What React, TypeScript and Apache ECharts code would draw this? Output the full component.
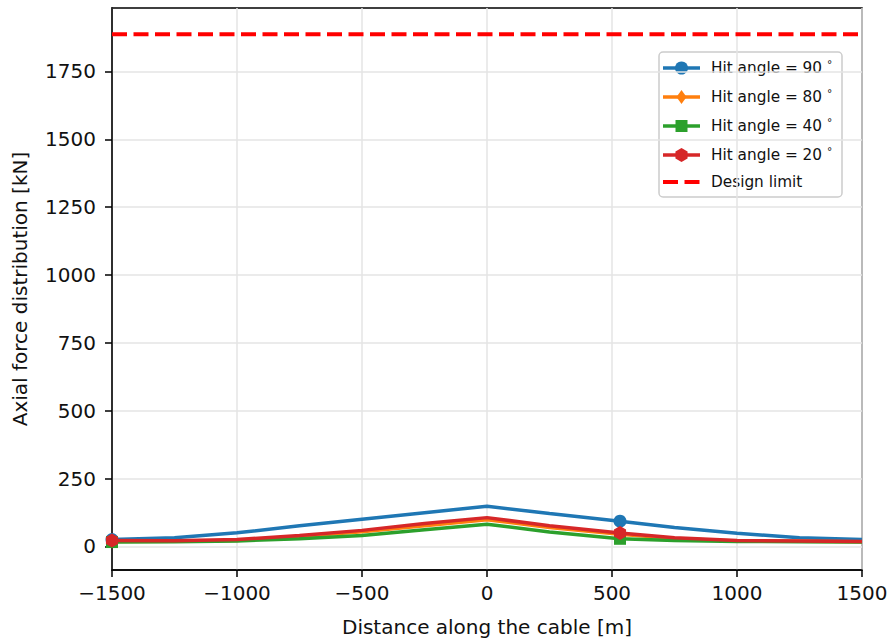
import React, { useEffect, useRef } from "react";
import * as echarts from "echarts";

const distances = [-1500, -1250, -1000, -750, -500, -250, 0, 250, 532, 750, 1000, 1250, 1500];
const force90 = [25, 32, 50, 76, 100, 124, 148, 121, 93, 70, 48, 32, 25];
const force80 = [18, 19, 22, 36, 54, 76, 98, 70, 45, 29, 20, 19, 17];
const force40 = [16, 17, 20, 28, 40, 61, 82, 53, 28, 22, 18, 17, 16];
const force20 = [22, 21, 25, 40, 59, 84, 106, 76, 49, 32, 22, 20, 18];
const designLimit = 1887;
const markerIndices = [0, 8];
const yTicks = [0, 250, 500, 750, 1000, 1250, 1500, 1750];
const xTicks = [-1500, -1000, -500, 0, 500, 1000, 1500];

const seriesNames = ["Hit angle = 90 °", "Hit angle = 80 °", "Hit angle = 40 °", "Hit angle = 20 °"];
const seriesColors = ["#1f77b4", "#ff7f0e", "#2ca02c", "#d62728"];
const limitName = "Design limit";
const limitColor = "#ff0000";
const FONT = "DejaVu Sans";

const hexPts = (cx: number, cy: number, r: number) =>
  [0, 1, 2, 3, 4, 5].map((k) => {
    const a = -Math.PI / 2 + (k * Math.PI) / 3;
    return [cx + r * Math.cos(a), cy + r * Math.sin(a)];
  });
const hexagon = "path://M0,-1 L0.866,-0.5 L0.866,0.5 L0,1 L-0.866,0.5 L-0.866,-0.5 Z";

function fmt(v: number) {
  return v < 0 ? "\u2212" + Math.abs(v) : String(v);
}

function legendMarker(i: number, cx: number, cy: number): any {
  const style = { fill: seriesColors[i] };
  if (i === 0) return { type: "circle", shape: { cx, cy, r: 6.5 }, style };
  if (i === 1)
    return {
      type: "polygon",
      shape: { points: [[cx, cy - 7], [cx + 5, cy], [cx, cy + 7], [cx - 5, cy]] },
      style,
    };
  if (i === 2) return { type: "rect", shape: { x: cx - 6, y: cy - 6, width: 12, height: 12 }, style };
  return { type: "polygon", shape: { points: hexPts(cx, cy, 7) }, style };
}

export default function App() {
  const ref = useRef<HTMLDivElement>(null);
  useEffect(() => {
    if (!ref.current) return;
    const chart = echarts.init(ref.current, undefined, { renderer: "svg" });
    const all = [force90, force80, force40, force20];
    const symbols: any[] = ["circle", "diamond", "rect", hexagon];
    const sizes: any[] = [13, [10, 14], 12, 14];
    const lineSeries = all.map((vals, i) => ({
      name: seriesNames[i],
      type: "line",
      symbol: symbols[i],
      symbolSize: sizes[i],
      symbolKeepAspect: true,
      showSymbol: true,
      showAllSymbol: true,
      clip: true,
      color: seriesColors[i],
      lineStyle: { color: seriesColors[i], width: 3.5 },
      itemStyle: { color: seriesColors[i] },
      data: distances.map((d, j) =>
        markerIndices.includes(j) ? { value: [d, vals[j]] } : { value: [d, vals[j]], symbol: "none" }
      ),
      z: 3 + i,
    }));

    // legend drawn as graphic (matplotlib-like)
    const lx = 659, ly = 52, lw = 183, lh = 145;
    const rowY = [68, 97, 126, 155, 182];
    const hx0 = 663, hx1 = 700, tx = 711;
    const legendFont = `15.3px "${FONT}"`;
    const legendEls: any[] = [
      {
        type: "rect",
        shape: { x: lx, y: ly, width: lw, height: lh, r: 4 },
        style: { fill: "rgba(255,255,255,0.8)", stroke: "#cccccc", lineWidth: 1.5 },
      },
    ];
    seriesNames.forEach((name, i) => {
      const y = rowY[i];
      legendEls.push({
        type: "line",
        shape: { x1: hx0, y1: y, x2: hx1, y2: y },
        style: { stroke: seriesColors[i], lineWidth: 3.5 },
      });
      legendEls.push(legendMarker(i, (hx0 + hx1) / 2, y));
      legendEls.push({
        type: "text",
        x: tx,
        y: y,
        style: {
          text: name.replace(" °", " {sup|°}"),
          font: legendFont,
          fill: "#111",
          verticalAlign: "middle",
          rich: {
            sup: { fontSize: 10.5, fontFamily: FONT, fill: "#111", verticalAlign: "top", padding: [0, 0, 8, 0] },
          },
        },
      });
    });
    legendEls.push({
      type: "line",
      shape: { x1: hx0, y1: rowY[4], x2: hx1, y2: rowY[4] },
      style: { stroke: limitColor, lineWidth: 4, lineDash: [15, 6.5] },
    });
    legendEls.push({
      type: "text",
      x: tx,
      y: rowY[4],
      style: { text: limitName, font: legendFont, fill: "#111", verticalAlign: "middle" },
    });

    const option: any = {
      animation: false,
      textStyle: { fontFamily: FONT },
      grid: {
        left: 112,
        right: 30,
        top: 8,
        bottom: 72,
        show: true,
        borderColor: "#000",
        borderWidth: 1.5,
        backgroundColor: "transparent",
      },
      xAxis: {
        type: "value",
        min: -1500,
        max: 1500,
        interval: 500,
        name: "Distance along the cable [m]",
        nameLocation: "middle",
        nameGap: 47,
        nameTextStyle: { fontSize: 20, color: "#111", fontFamily: FONT },
        axisLine: { show: true, onZero: false, lineStyle: { color: "#000", width: 1.5 } },
        axisTick: { show: true, length: 7, lineStyle: { color: "#000", width: 1.5 }, customValues: xTicks },
        axisLabel: { fontSize: 20, color: "#111", margin: 13, formatter: fmt, customValues: xTicks, fontFamily: FONT },
        splitLine: { show: true, lineStyle: { color: "#e4e4e4", width: 1.5 } },
      },
      yAxis: {
        type: "value",
        min: -87,
        max: 1984,
        name: "Axial force distribution [kN]",
        nameLocation: "middle",
        nameGap: 82,
        nameRotate: 90,
        nameTextStyle: { fontSize: 20, color: "#111", fontFamily: FONT },
        axisLine: { show: true, onZero: false, lineStyle: { color: "#000", width: 1.5 } },
        axisTick: { show: true, length: 7, lineStyle: { color: "#000", width: 1.5 }, customValues: yTicks },
        axisLabel: { fontSize: 20, color: "#111", margin: 16, formatter: fmt, customValues: yTicks, fontFamily: FONT },
        splitLine: { show: true, lineStyle: { color: "#e4e4e4", width: 1.5 } },
      },
      graphic: [{ type: "group", z: 100, children: legendEls }],
      series: [
        ...lineSeries,
        {
          name: limitName,
          type: "line",
          symbol: "none",
          color: limitColor,
          lineStyle: { color: limitColor, width: 4, type: [15, 6.5] },
          data: [
            [-1500, designLimit],
            [1500, designLimit],
          ],
          z: 2,
        },
      ],
    };
    chart.setOption(option);
    return () => chart.dispose();
  }, []);
  return (
    <div
      ref={ref}
      style={{ position: "fixed", left: 0, top: 0, width: 892, height: 642, background: "#fff" }}
    />
  );
}
